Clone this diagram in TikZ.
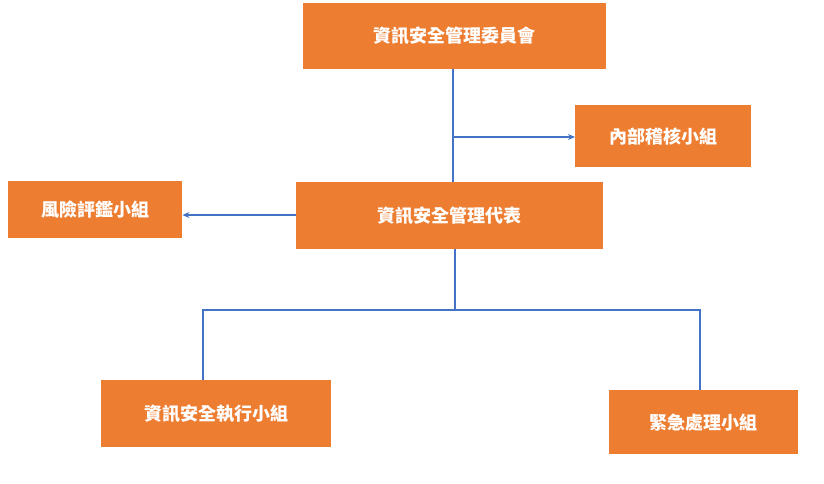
\documentclass[tikz,border=0pt]{standalone}
\usepackage{fontspec}
\newfontfamily\cjk{Noto Sans CJK TC}
\definecolor{boxorange}{HTML}{ED7D31}
\definecolor{lineblue}{HTML}{4472C4}
\tikzset{
  unit/.style={fill=boxorange, text=white, font=\cjk\bfseries\fontsize{18}{20}\selectfont, inner sep=0pt, anchor=north west},
  link/.style={lineblue, line width=1.3pt},
  arrow/.style={link, -{Stealth[length=7pt,width=6pt]}}
}
\usetikzlibrary{arrows.meta}
\begin{document}
\begin{tikzpicture}[x=1pt,y=-1pt]
    \useasboundingbox (0,0) rectangle (824,483);

    % Riquadri
    \node[unit, minimum width=303pt, minimum height=66pt] (board) at (303,3) {資訊安全管理委員會};
    \node[unit, minimum width=176pt, minimum height=62pt] (audit) at (575,105) {內部稽核小組};
    \node[unit, minimum width=174pt, minimum height=57pt] (risk) at (8,181) {風險評鑑小組};
    \node[unit, minimum width=307pt, minimum height=67pt] (rep) at (296,182) {資訊安全管理代表};
    \node[unit, minimum width=230pt, minimum height=67pt] (exec) at (101,380) {資訊安全執行小組};
    \node[unit, minimum width=189pt, minimum height=64pt] (emerg) at (609,390) {緊急處理小組};

    % Collegamenti
    \coordinate (split) at (453,137);
    \coordinate (fork) at (455,310);
    \draw[link] (board.south -| split) -- (rep.north -| split);
    \draw[arrow] (split) -- (audit.west |- split);
    \draw[arrow] (rep.west |- 0,215) -- (risk.east |- 0,215);
    \draw[link] (rep.south -| fork) -- (fork);
    \draw[link] (exec.north -| 203,0) |- (fork) -| (emerg.north -| 700,0);
\end{tikzpicture}
\end{document}
